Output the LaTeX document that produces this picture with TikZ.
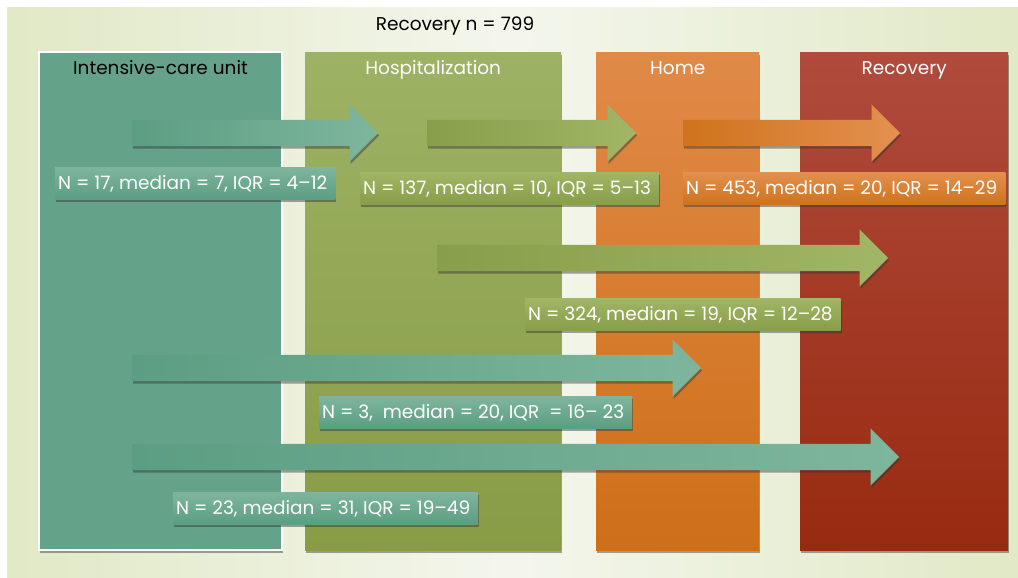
\documentclass[tikz,border=0pt]{standalone}
\usepackage{fontspec}
\setmainfont{Poppins}
\usetikzlibrary{
    calc,
    positioning,
    shadows,
    shapes.arrows
}
\definecolor{icuteal}{HTML}{64A38A}
\definecolor{tealdark}{HTML}{5C9E83}
\definecolor{teallight}{HTML}{7EB69D}
\definecolor{hosptop}{HTML}{9DB264}
\definecolor{hospbot}{HTML}{889C46}
\definecolor{hometop}{HTML}{E08A48}
\definecolor{homebot}{HTML}{CE6F18}
\definecolor{rectop}{HTML}{B04B3D}
\definecolor{recbot}{HTML}{982A10}
\definecolor{bgside}{HTML}{E1E9C6}
\definecolor{bgmid}{HTML}{F4F6EC}
\definecolor{greendark}{HTML}{899E4A}
\definecolor{greenlight}{HTML}{A1B666}
\definecolor{orangedark}{HTML}{CF731C}
\definecolor{orangelight}{HTML}{E39050}
\tikzset{
    softshadow/.style = {
        drop shadow = {shadow xshift = 1pt, shadow yshift = -2.5pt,
                       opacity = 0.45, fill = black!80}
    },
    column/.style = {
        rectangle,
        anchor = north west,
        inner sep = 0pt,
        minimum height = 498pt,
        softshadow
    },
    header/.style = {
        anchor = base,
        inner sep = 0pt,
        text = white
    },
    flow/.style = {
        single arrow,
        anchor = tail,
        minimum width = 0pt,
        inner xsep = 0pt,
        inner ysep = 13pt,
        single arrow head extend = 15.5pt,
        single arrow tip angle = 90,
        softshadow
    },
    tealflow/.style   = {flow, left color = tealdark,   right color = teallight},
    greenflow/.style  = {flow, left color = greendark,  right color = greenlight},
    orangeflow/.style = {flow, left color = orangedark, right color = orangelight},
    stat/.style = {
        rectangle,
        anchor = west,
        text = white,
        inner xsep = 3pt,
        inner ysep = 0pt,
        minimum height = 32pt,
        text height = 13pt,
        text depth = 0pt,
        execute at end node = \hspace{5pt},
        softshadow
    },
    tealstat/.style   = {stat, top color = teallight,   bottom color = tealdark},
    greenstat/.style  = {stat, top color = greenlight,  bottom color = greendark},
    orangestat/.style = {stat, top color = orangelight, bottom color = orangedark}
}

\begin{document}
\begin{tikzpicture}[x = 1pt, y = -1pt, font = \fontsize{18.5}{22}\selectfont]
    % background
    \useasboundingbox (0,0) rectangle (1018,578);
    \fill[left color = bgside, right color = bgside, middle color = bgmid] (7,8) rectangle (1018,578);

    \node[anchor = base, inner sep = 0pt] (title) at (455,31) {Recovery n = 799};

    % columns
    \node[column, minimum width = 243pt, fill = icuteal, draw = white, line width = 2pt] (icu) at (38,51) {};
    \node[column, minimum width = 256pt, top color = hosptop, bottom color = hospbot] (hosp) at (305,52) {};
    \node[column, minimum width = 163pt, top color = hometop, bottom color = homebot] (home) at (596,52) {};
    \node[column, minimum width = 208pt, top color = rectop, bottom color = recbot] (recov) at (800,52) {};

    \node[header, text = black] (icu-title) at ($(icu.north) + (0,24)$) {Intensive-care unit};
    \node[header] (hosp-title) at ($(hosp.north) + (0,23)$) {Hospitalization};
    \node[header] (home-title) at ($(home.north) + (0,23)$) {Home};
    \node[header] (recov-title) at ($(recov.north) + (0,23)$) {Recovery};

    % transitions
    \node[tealflow, minimum height = 246pt] (icu-hosp) at (132,133) {};
    \node[greenflow, minimum height = 209pt] (hosp-home) at (427,133) {};
    \node[orangeflow, minimum height = 217pt] (home-recov) at (683,133) {};
    \node[greenflow, minimum height = 451pt] (hosp-recov) at (437,258) {};
    \node[tealflow, minimum height = 569pt] (icu-home) at (132,368) {};
    \node[tealflow, minimum height = 767pt] (icu-recov) at (132,457) {};

    % durations
    \node[tealstat] (icu-hosp-stat) at (55,183) {N = 17, median = 7, IQR = 4–12};
    \node[greenstat] (hosp-home-stat) at (360,188) {N = 137, median = 10, IQR = 5–13};
    \node[orangestat] (home-recov-stat) at (683,188) {N = 453, median = 20, IQR = 14–29};
    \node[greenstat] (hosp-recov-stat) at (525,314) {N = 324, median = 19, IQR = 12–28};
    \node[tealstat] (icu-home-stat) at (319,412) {N = 3,\ \ median = 20, IQR\ \ = 16– 23};
    \node[tealstat] (icu-recov-stat) at (173,508) {N = 23, median = 31, IQR = 19–49};
\end{tikzpicture}
\end{document}
